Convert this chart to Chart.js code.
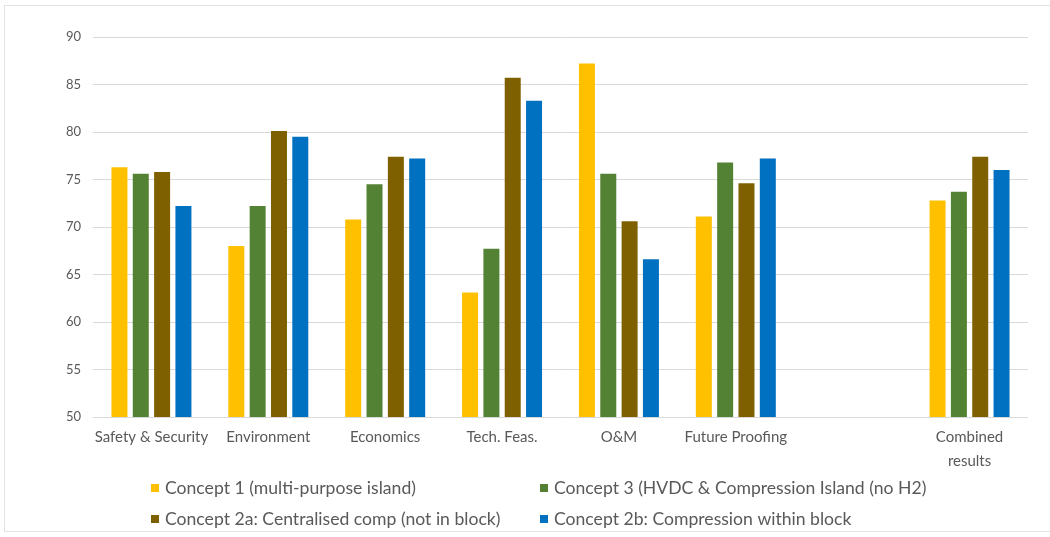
<!DOCTYPE html>
<html>
<head>
<meta charset="utf-8">
<script src="https://cdn.jsdelivr.net/npm/chart.js@4/dist/chart.umd.min.js"></script>
<style>
  html, body { margin: 0; padding: 0; background: #ffffff; overflow: hidden; }
  #wrap { position: relative; width: 1050px; height: 537px; overflow: hidden; }
  #frame { position: absolute; left: 4px; top: 5px; width: 1080px; height: 525px;
           border: 1px solid #e3e3e3; pointer-events: none; }
</style>
</head>
<body>
<div id="wrap">
  <canvas id="chart" width="1050" height="537"></canvas>
  <div id="frame"></div>
</div>
<script>
// Assessment criteria (one blank slot separates the combined score)
const categories = [
  'Safety & Security', 'Environment', 'Economics', 'Tech. Feas.',
  'O&M', 'Future Proofing', '', ['Combined', 'results']
];

const seriesNames = [
  'Concept 1 (multi-purpose island)',
  'Concept 3 (HVDC & Compression Island (no H2)',
  'Concept 2a: Centralised comp (not in block)',
  'Concept 2b: Compression within block'
];

const concept1  = [76.3, 68.0, 70.8, 63.1, 87.2, 71.1, null, 72.8];
const concept3  = [75.6, 72.2, 74.5, 67.7, 75.6, 76.8, null, 73.7];
const concept2a = [75.8, 80.1, 77.4, 85.7, 70.6, 74.6, null, 77.4];
const concept2b = [72.2, 79.5, 77.2, 83.3, 66.6, 77.2, null, 76.0];

const yTicks = [50, 55, 60, 65, 70, 75, 80, 85, 90];

const colors = ['#FFC000', '#548235', '#7F6000', '#0070C0'];
const textColor = '#595959';
const fontFamily = 'Lato, "Open Sans", sans-serif';

// Two-column legend under the axis labels
const gridLegend = {
  id: 'gridLegend',
  afterDraw(chart) {
    const ctx = chart.ctx;
    const cols = [151, 540];
    const rows = [488, 519];
    const box = 8;
    ctx.save();
    ctx.font = '17.6px ' + fontFamily;
    ctx.textBaseline = 'middle';
    ctx.textAlign = 'left';
    chart.data.datasets.forEach((ds, i) => {
      const x = cols[i % 2];
      const y = rows[Math.floor(i / 2)];
      ctx.fillStyle = ds.backgroundColor;
      ctx.fillRect(x, y - box / 2, box, box);
      ctx.fillStyle = textColor;
      ctx.fillText(ds.label, x + box + 6, y);
    });
    ctx.restore();
  }
};

const data = [concept1, concept3, concept2a, concept2b];

new Chart(document.getElementById('chart'), {
  type: 'bar',
  data: {
    labels: categories,
    datasets: data.map((vals, i) => ({
      label: seriesNames[i],
      data: vals,
      backgroundColor: colors[i],
      borderWidth: 0,
      categoryPercentage: 0.73,
      barPercentage: 0.75
    }))
  },
  options: {
    responsive: false,
    animation: false,
    layout: { padding: { top: 37, right: 22, left: 0, bottom: 0 } },
    plugins: {
      legend: { display: false },
      tooltip: { enabled: false }
    },
    scales: {
      x: {
        grid: { display: false, drawTicks: false },
        border: { display: false },
        ticks: {
          color: textColor,
          font: { family: fontFamily, size: 15, lineHeight: 1.55 },
          padding: 9,
          maxRotation: 0,
          autoSkip: false
        },
        afterFit(scale) { scale.height = 120; }
      },
      y: {
        min: 50,
        max: 90,
        afterBuildTicks(scale) { scale.ticks = yTicks.map(v => ({ value: v })); },
        grid: { color: '#d9d9d9', lineWidth: 1, drawTicks: false },
        border: { display: false },
        ticks: {
          color: textColor,
          font: { family: fontFamily, size: 13 },
          padding: 12
        },
        afterFit(scale) { scale.width = 93; }
      }
    }
  },
  plugins: [gridLegend]
});
</script>
</body>
</html>
